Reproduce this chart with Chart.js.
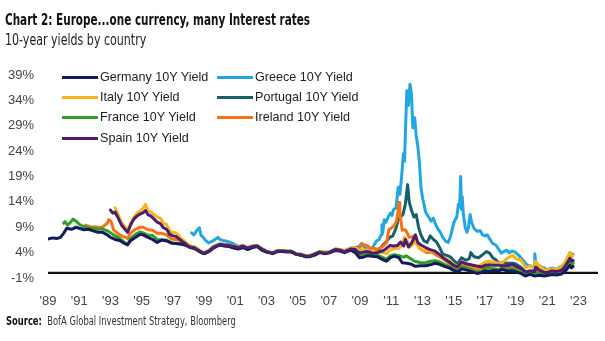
<!DOCTYPE html>
<html>
<head>
<meta charset="utf-8">
<script src="https://cdn.jsdelivr.net/npm/chart.js@4/dist/chart.umd.min.js"></script>
<style>
  html, body { margin: 0; padding: 0; background: #fff; }
  #wrap { position: relative; width: 605px; height: 341px; overflow: hidden; background: #fff; }
  #c { position: absolute; left: 0; top: 0; }
  .narrow { font-family: "Liberation Sans Narrow", "Arial Narrow", "DejaVu Sans Condensed", "Liberation Sans", sans-serif; transform-origin: 0 50%; }
  #title { position: absolute; left: 5px; top: 11px; font-size: 15.5px; font-weight: bold; color: #111; white-space: nowrap; transform: scaleX(0.75); }
  #subtitle { position: absolute; left: 5px; top: 31px; font-size: 15px; color: #222; white-space: nowrap; transform: scaleX(0.82); }
  #source { position: absolute; left: 6px; top: 314px; font-size: 11.5px; color: #333; white-space: nowrap; transform: scaleX(0.81); }
  #source b { color: #111; }
  #legend { position: absolute; left: 0; top: 0; width: 605px; height: 160px; pointer-events: none; }
  .li { position: absolute; height: 16px; display: flex; align-items: center; font-family: "Liberation Sans", Arial, sans-serif; font-size: 12.6px; color: #222; white-space: nowrap; }
  .sw { display: inline-block; width: 36px; height: 3px; margin-right: 2px; }
</style>
</head>
<body>
<div id="wrap">
  <canvas id="c" width="605" height="341"></canvas>
  <div id="title" class="narrow">Chart 2: Europe...one currency, many Interest rates</div>
  <div id="subtitle" class="narrow">10-year yields by country</div>
  <div id="legend"></div>
  <div id="source" class="narrow"><b>Source:</b>&nbsp; BofA Global Investment Strategy, Bloomberg</div>
</div>
<script>
// ---------- DATA ----------
const seriesNames = ["Germany 10Y Yield", "Greece 10Y Yield", "Italy 10Y Yield", "Portugal 10Y Yield", "France 10Y Yield", "Ireland 10Y Yield", "Spain 10Y Yield"];

const yTickValues = [-1, 4, 9, 14, 19, 24, 29, 34, 39];
const yTickLabels = ["-1%", "4%", "9%", "14%", "19%", "24%", "29%", "34%", "39%"];
const xTickValues = [1989, 1991, 1993, 1995, 1997, 1999, 2001, 2003, 2005, 2007, 2009, 2011, 2013, 2015, 2017, 2019, 2021, 2023];
const xTickLabels = ["'89", "'91", "'93", "'95", "'97", "'99", "'01", "'03", "'05", "'07", "'09", "'11", "'13", "'15", "'17", "'19", "'21", "'23"];

const germanyDates = [1989.0,1989.3,1989.6,1989.8,1990.0,1990.2,1990.5,1990.8,1991.0,1991.3,1991.6,1991.9,1992.2,1992.5,1992.8,1993.0,1993.3,1993.6,1993.9,1994.1,1994.3,1994.6,1994.9,1995.1,1995.4,1995.7,1996.0,1996.3,1996.6,1996.9,1997.2,1997.5,1997.8,1998.1,1998.4,1998.7,1999.0,1999.3,1999.6,2000.0,2000.3,2000.6,2000.9,2001.2,2001.5,2001.8,2002.1,2002.4,2002.7,2003.0,2003.4,2003.7,2004.0,2004.3,2004.6,2004.9,2005.2,2005.5,2005.8,2006.1,2006.4,2006.7,2007.0,2007.4,2007.7,2008.0,2008.4,2008.7,2008.95,2009.2,2009.5,2009.8,2010.1,2010.4,2010.7,2010.95,2011.2,2011.5,2011.7,2012.0,2012.3,2012.55,2012.9,2013.2,2013.5,2013.8,2014.1,2014.4,2014.7,2015.0,2015.3,2015.5,2015.8,2016.1,2016.5,2016.8,2017.0,2017.3,2017.6,2017.9,2018.1,2018.4,2018.8,2019.0,2019.3,2019.6,2019.9,2020.2,2020.5,2020.8,2021.0,2021.3,2021.6,2021.9,2022.1,2022.3,2022.45,2022.55,2022.65];
const germanyYield = [6.7,6.9,6.8,7.0,7.8,8.8,8.6,9.0,8.8,8.5,8.6,8.3,8.0,8.0,7.5,7.0,6.6,6.4,5.8,5.5,6.4,7.0,7.6,7.5,7.0,6.6,6.0,6.5,6.3,5.9,5.8,5.7,5.5,5.0,4.8,4.2,3.8,4.2,4.9,5.5,5.3,5.2,4.9,4.7,5.0,4.6,5.0,5.2,4.5,4.1,3.8,4.2,4.2,4.1,4.1,3.7,3.5,3.2,3.2,3.5,4.0,3.8,3.9,4.4,4.3,4.0,4.5,4.0,3.0,3.1,3.4,3.3,3.2,2.7,2.3,3.0,3.3,3.0,2.0,1.9,1.7,1.3,1.4,1.4,1.6,1.9,1.7,1.3,1.0,0.5,0.2,0.8,0.6,0.3,-0.1,0.1,0.4,0.3,0.5,0.4,0.7,0.4,0.4,0.2,-0.1,-0.6,-0.3,-0.6,-0.45,-0.6,-0.5,-0.3,-0.4,-0.2,0.2,0.9,1.5,1.0,1.3];

const greeceDates = [1998.2,1998.35,1998.5,1998.7,1998.8,1998.95,1999.1,1999.3,1999.5,1999.7,1999.9,2000.0,2000.2,2000.4,2000.6,2000.9,2001.1,2001.2,2001.5,2001.8,2002.1,2002.4,2002.7,2003.0,2003.4,2003.7,2004.0,2004.3,2004.6,2004.9,2005.2,2005.5,2005.8,2006.1,2006.4,2006.7,2007.0,2007.4,2007.7,2008.0,2008.4,2008.7,2008.95,2009.1,2009.3,2009.5,2009.7,2009.9,2010.05,2010.2,2010.35,2010.4,2010.45,2010.55,2010.65,2010.8,2010.95,2011.05,2011.15,2011.3,2011.45,2011.55,2011.65,2011.78,2011.85,2011.93,2012.0,2012.1,2012.2,2012.3,2012.38,2012.5,2012.6,2012.7,2012.8,2012.9,2013.0,2013.2,2013.4,2013.55,2013.7,2013.85,2014.0,2014.15,2014.3,2014.5,2014.65,2014.8,2014.9,2015.0,2015.1,2015.2,2015.3,2015.38,2015.45,2015.5,2015.55,2015.62,2015.75,2015.85,2015.95,2016.05,2016.15,2016.3,2016.5,2016.7,2016.85,2017.0,2017.15,2017.35,2017.5,2017.7,2017.9,2018.05,2018.2,2018.4,2018.55,2018.75,2018.9,2019.05,2019.25,2019.45,2019.65,2019.85,2020.0,2020.15,2020.2,2020.25,2020.4,2020.6,2020.8,2021.0,2021.2,2021.4,2021.6,2021.8,2022.0,2022.15,2022.3,2022.45,2022.55,2022.65];
const greeceYield = [7.9,7.5,8.2,8.9,7.5,7.0,6.4,5.9,6.2,6.6,7.0,6.6,6.4,6.3,6.1,5.7,5.4,5.2,5.4,5.0,5.3,5.4,4.8,4.3,4.0,4.4,4.4,4.3,4.3,3.8,3.7,3.4,3.5,3.8,4.2,4.1,4.1,4.7,4.6,4.4,4.9,5.0,5.2,5.8,5.0,4.7,4.6,5.5,6.3,6.5,7.5,9.5,7.8,10.5,10.0,11.0,11.8,11.3,12.5,12.8,16.9,15.5,18.5,23.5,22.0,30.0,35.9,33.0,37.2,35.0,28.6,30.6,27.0,25.0,22.0,17.0,14.9,12.0,11.0,10.2,10.8,9.5,8.6,8.0,7.0,6.2,6.0,7.2,8.5,9.8,10.5,11.0,13.5,13.0,19.0,12.5,15.0,11.5,8.8,8.0,9.0,11.5,10.0,8.8,8.2,8.3,7.5,7.3,7.5,6.5,5.8,5.5,4.6,3.9,4.2,4.5,4.0,4.3,4.2,3.8,3.2,2.5,1.7,1.4,1.3,1.1,3.8,2.0,1.6,1.2,1.0,0.6,0.9,0.9,0.7,1.2,1.4,2.0,2.8,4.0,3.1,3.7];

const italyDates = [1993.3,1993.5,1993.7,1993.9,1994.1,1994.3,1994.5,1994.7,1994.9,1995.1,1995.25,1995.4,1995.6,1995.8,1996.0,1996.2,1996.4,1996.6,1996.8,1997.0,1997.2,1997.4,1997.6,1997.8,1998.0,1998.3,1998.6,1998.9,1999.1,1999.4,1999.7,2000.0,2000.3,2000.6,2000.9,2001.2,2001.5,2001.8,2002.1,2002.4,2002.7,2003.0,2003.4,2003.7,2004.0,2004.3,2004.6,2004.9,2005.2,2005.5,2005.8,2006.1,2006.4,2006.7,2007.0,2007.4,2007.7,2008.0,2008.4,2008.7,2008.95,2009.2,2009.5,2009.8,2010.1,2010.4,2010.7,2010.95,2011.2,2011.5,2011.7,2011.85,2012.0,2012.2,2012.4,2012.55,2012.8,2013.0,2013.3,2013.6,2013.9,2014.2,2014.5,2014.8,2015.0,2015.25,2015.5,2015.8,2016.1,2016.5,2016.8,2017.0,2017.3,2017.6,2017.9,2018.1,2018.4,2018.6,2018.8,2019.0,2019.3,2019.6,2019.9,2020.2,2020.25,2020.5,2020.8,2021.0,2021.3,2021.6,2021.9,2022.1,2022.3,2022.45,2022.55,2022.65];
const italyYield = [12.8,11.5,10.0,9.2,8.4,9.8,11.0,11.8,12.2,12.8,13.5,12.3,12.0,11.5,11.0,10.8,9.8,9.5,8.3,7.9,7.9,7.3,6.6,6.1,5.4,5.1,4.7,4.1,4.0,4.5,5.3,5.7,5.6,5.5,5.3,5.1,5.4,5.0,5.3,5.4,4.8,4.3,4.0,4.4,4.4,4.3,4.3,3.8,3.7,3.4,3.5,3.8,4.2,4.1,4.1,4.7,4.6,4.4,4.9,4.9,4.5,4.5,4.5,4.1,4.1,4.0,3.8,4.6,4.8,4.9,5.5,7.0,6.4,5.1,5.7,6.2,4.8,4.4,4.4,4.3,4.1,3.3,2.8,2.3,1.7,1.2,2.3,1.7,1.5,1.3,1.7,2.1,2.3,2.1,1.9,2.0,2.8,3.2,3.5,2.8,2.6,1.1,1.3,1.0,2.3,1.3,0.7,0.6,0.8,0.7,1.2,1.9,3.1,4.0,3.2,3.5];

const portugalDates = [1999.0,1999.3,1999.6,2000.0,2000.3,2000.6,2000.9,2001.2,2001.5,2001.8,2002.1,2002.4,2002.7,2003.0,2003.4,2003.7,2004.0,2004.3,2004.6,2004.9,2005.2,2005.5,2005.8,2006.1,2006.4,2006.7,2007.0,2007.4,2007.7,2008.0,2008.4,2008.7,2008.95,2009.2,2009.5,2009.8,2010.1,2010.3,2010.5,2010.7,2010.9,2011.1,2011.3,2011.45,2011.6,2011.75,2011.9,2012.05,2012.15,2012.3,2012.45,2012.6,2012.75,2012.9,2013.1,2013.3,2013.5,2013.7,2013.9,2014.1,2014.3,2014.6,2014.8,2015.0,2015.25,2015.5,2015.8,2016.0,2016.1,2016.3,2016.6,2016.9,2017.1,2017.3,2017.5,2017.7,2017.9,2018.1,2018.4,2018.8,2019.0,2019.3,2019.6,2019.9,2020.2,2020.25,2020.5,2020.8,2021.0,2021.3,2021.6,2021.9,2022.1,2022.3,2022.45,2022.55,2022.65];
const portugalYield = [4.0,4.4,5.2,5.7,5.6,5.5,5.2,5.0,5.3,4.9,5.2,5.3,4.7,4.2,3.9,4.3,4.3,4.2,4.2,3.7,3.6,3.3,3.3,3.7,4.1,3.9,4.0,4.6,4.5,4.3,4.8,4.7,4.0,4.3,4.3,3.9,4.3,4.9,5.6,6.2,7.0,7.3,8.8,10.5,11.0,11.5,13.5,17.4,14.0,12.3,11.0,11.5,9.0,7.5,6.3,6.0,7.3,6.6,6.1,5.0,3.7,3.4,3.1,2.5,1.8,3.0,2.5,2.8,4.0,3.2,3.0,3.7,4.2,3.9,3.0,2.6,1.9,2.0,1.9,1.9,1.7,1.1,0.2,0.4,0.4,1.3,0.5,0.1,0.1,0.4,0.2,0.5,1.1,2.2,3.0,2.3,2.4];

const franceDates = [1990.0,1990.1,1990.25,1990.45,1990.6,1990.8,1991.0,1991.3,1991.6,1991.9,1992.2,1992.5,1992.8,1993.0,1993.3,1993.6,1993.9,1994.1,1994.3,1994.6,1994.9,1995.1,1995.4,1995.7,1996.0,1996.3,1996.6,1996.9,1997.2,1997.5,1997.8,1998.1,1998.4,1998.7,1999.0,1999.3,1999.6,2000.0,2000.3,2000.6,2000.9,2001.2,2001.5,2001.8,2002.1,2002.4,2002.7,2003.0,2003.4,2003.7,2004.0,2004.3,2004.6,2004.9,2005.2,2005.5,2005.8,2006.1,2006.4,2006.7,2007.0,2007.4,2007.7,2008.0,2008.4,2008.7,2008.95,2009.2,2009.5,2009.8,2010.1,2010.4,2010.7,2010.95,2011.2,2011.5,2011.8,2011.95,2012.2,2012.5,2012.9,2013.2,2013.5,2013.8,2014.1,2014.4,2014.7,2015.0,2015.3,2015.5,2015.8,2016.1,2016.5,2016.8,2017.0,2017.3,2017.6,2017.9,2018.1,2018.4,2018.8,2019.0,2019.3,2019.6,2019.9,2020.2,2020.5,2020.8,2021.0,2021.3,2021.6,2021.9,2022.1,2022.3,2022.45,2022.55,2022.65];
const franceYield = [9.8,10.1,9.4,10.0,10.6,10.2,9.6,9.1,8.9,8.8,8.6,8.7,8.3,7.9,7.3,6.8,6.0,5.7,6.8,7.6,8.1,7.9,7.4,7.4,6.6,6.5,6.5,5.9,5.8,5.7,5.5,5.1,5.0,4.3,3.9,4.3,5.0,5.6,5.4,5.3,5.1,4.9,5.2,4.8,5.1,5.3,4.6,4.2,3.9,4.3,4.3,4.2,4.2,3.7,3.6,3.3,3.3,3.6,4.1,3.9,4.0,4.5,4.4,4.1,4.6,4.3,3.4,3.6,3.7,3.6,3.5,3.1,2.7,3.4,3.6,3.4,3.1,3.4,2.9,2.3,2.0,2.0,2.3,2.4,2.2,1.7,1.3,0.8,0.4,1.2,1.0,0.6,0.2,0.3,0.9,0.9,0.8,0.7,0.9,0.7,0.8,0.6,0.3,-0.3,0.0,0.0,-0.1,-0.3,-0.3,0.1,0.0,0.2,0.6,1.6,2.1,1.6,1.9];

const irelandDates = [1991.4,1991.6,1991.8,1992.0,1992.2,1992.4,1992.6,1992.8,1992.9,1993.05,1993.2,1993.5,1993.8,1994.1,1994.3,1994.6,1994.9,1995.1,1995.4,1995.7,1996.0,1996.3,1996.6,1996.9,1997.2,1997.5,1997.8,1998.1,1998.4,1998.7,1999.0,1999.3,1999.6,2000.0,2000.3,2000.6,2000.9,2001.2,2001.5,2001.8,2002.1,2002.4,2002.7,2003.0,2003.4,2003.7,2004.0,2004.3,2004.6,2004.9,2005.2,2005.5,2005.8,2006.1,2006.4,2006.7,2007.0,2007.4,2007.7,2008.0,2008.4,2008.7,2008.95,2009.1,2009.3,2009.5,2009.7,2009.9,2010.1,2010.3,2010.5,2010.7,2010.85,2011.0,2011.2,2011.35,2011.5,2011.55,2011.7,2011.9,2012.0,2012.15,2012.4,2012.6,2012.8,2013.0,2013.3,2013.6,2013.9,2014.2,2014.5,2014.8,2015.0,2015.25,2015.5,2015.8,2016.1,2016.5,2016.8,2017.0,2017.3,2017.6,2017.9,2018.1,2018.4,2018.8,2019.0,2019.3,2019.6,2019.9,2020.2,2020.25,2020.5,2020.8,2021.0,2021.3,2021.6,2021.9,2022.1,2022.3,2022.45,2022.55,2022.65];
const irelandYield = [9.4,9.2,9.0,9.1,9.0,8.9,9.3,9.8,10.5,10.1,8.5,7.7,7.2,6.8,7.9,8.6,9.0,9.0,8.5,8.4,7.8,7.8,7.5,6.7,6.6,6.4,6.0,5.3,5.1,4.5,3.9,4.3,5.1,5.6,5.5,5.4,5.1,4.9,5.2,4.8,5.1,5.3,4.6,4.2,3.9,4.3,4.3,4.2,4.2,3.7,3.5,3.2,3.3,3.6,4.1,3.9,4.0,4.6,4.5,4.3,4.8,4.9,4.6,5.7,5.5,5.3,4.8,4.8,4.7,4.9,5.3,6.0,8.6,8.8,9.4,10.3,13.9,12.0,8.4,8.5,8.0,7.0,7.2,6.0,4.9,4.5,4.0,4.1,3.5,3.0,2.4,1.7,1.1,0.8,1.6,1.2,1.0,0.6,0.8,1.1,1.0,0.7,0.6,1.0,0.9,0.9,0.7,0.4,-0.1,0.1,0.1,0.4,0.0,-0.2,-0.2,0.2,0.1,0.3,0.8,1.8,2.4,1.8,2.0];

const spainDates = [1993.0,1993.15,1993.3,1993.5,1993.7,1993.9,1994.1,1994.3,1994.5,1994.7,1994.9,1995.1,1995.25,1995.4,1995.6,1995.8,1996.0,1996.2,1996.4,1996.6,1996.8,1997.0,1997.2,1997.4,1997.6,1997.8,1998.0,1998.3,1998.6,1998.9,1999.1,1999.4,1999.7,2000.0,2000.3,2000.6,2000.9,2001.2,2001.5,2001.8,2002.1,2002.4,2002.7,2003.0,2003.4,2003.7,2004.0,2004.3,2004.6,2004.9,2005.2,2005.5,2005.8,2006.1,2006.4,2006.7,2007.0,2007.4,2007.7,2008.0,2008.4,2008.7,2008.95,2009.2,2009.5,2009.8,2010.1,2010.4,2010.6,2010.9,2011.1,2011.4,2011.6,2011.8,2011.9,2012.1,2012.3,2012.55,2012.7,2012.9,2013.2,2013.5,2013.8,2014.1,2014.4,2014.7,2015.0,2015.25,2015.5,2015.8,2016.1,2016.5,2016.8,2017.0,2017.3,2017.6,2017.9,2018.1,2018.4,2018.8,2019.0,2019.3,2019.6,2019.9,2020.2,2020.25,2020.5,2020.8,2021.0,2021.3,2021.6,2021.9,2022.1,2022.3,2022.45,2022.55,2022.65];
const spainYield = [12.4,11.8,12.0,10.8,9.5,8.7,8.0,9.5,10.6,11.2,11.6,11.9,12.3,11.5,11.2,10.6,10.0,9.7,8.9,8.6,7.6,7.3,7.2,6.7,6.2,5.8,5.2,4.9,4.5,3.9,3.9,4.4,5.2,5.6,5.5,5.4,5.2,5.0,5.3,4.9,5.2,5.3,4.7,4.2,3.9,4.3,4.3,4.2,4.2,3.7,3.6,3.3,3.3,3.7,4.1,3.9,4.0,4.6,4.5,4.2,4.7,4.6,3.9,4.1,4.2,3.9,4.0,4.3,4.6,5.4,5.3,5.4,6.1,5.3,6.6,5.1,5.9,7.5,6.0,5.5,5.0,4.6,4.3,3.6,2.8,2.2,1.5,1.2,2.2,1.8,1.6,1.3,1.2,1.5,1.6,1.5,1.5,1.4,1.4,1.6,1.3,0.9,0.2,0.4,0.3,1.1,0.5,0.1,0.1,0.4,0.3,0.5,1.1,2.1,2.9,2.3,2.5];

// ---------- STYLE ----------
const colors = ["#141a5e", "#21a6e2", "#fbb216", "#16606c", "#2f9f27", "#f57316", "#4c1f6e"];
const drawOrder = [2, 7, 4, 6, 3, 5, 1]; // higher = drawn underneath
const seriesDates = [germanyDates, greeceDates, italyDates, portugalDates, franceDates, irelandDates, spainDates];
const seriesValues = [germanyYield, greeceYield, italyYield, portugalYield, franceYield, irelandYield, spainYield];

const datasets = seriesNames.map((name, i) => ({
  label: name,
  data: seriesDates[i].map((d, j) => ({ x: d, y: seriesValues[i][j] })),
  borderColor: colors[i],
  backgroundColor: colors[i],
  borderWidth: 3,
  pointRadius: 0,
  tension: 0,
  borderJoinStyle: 'round',
  borderCapStyle: 'round',
  order: drawOrder[i]
}));

// HTML legend (two columns)
const legendPos = [[62, 69], [217, 69], [62, 89], [217, 89], [62, 109], [217, 109], [62, 130]];
const legendEl = document.getElementById('legend');
seriesNames.forEach((name, i) => {
  const d = document.createElement('div');
  d.className = 'li';
  d.style.left = legendPos[i][0] + 'px';
  d.style.top = legendPos[i][1] + 'px';
  d.innerHTML = '<span class="sw" style="background:' + colors[i] + '"></span>' + name;
  legendEl.appendChild(d);
});

const zeroLine = {
  id: 'zeroLine',
  beforeDatasetsDraw(chart) {
    const { ctx, chartArea, scales } = chart;
    const y = scales.y.getPixelForValue(0);
    ctx.save();
    ctx.strokeStyle = '#111';
    ctx.lineWidth = 2.2;
    ctx.beginPath();
    ctx.moveTo(chartArea.left, y);
    ctx.lineTo(chartArea.right, y);
    ctx.stroke();
    ctx.restore();
  }
};

const tickFont = { family: '"Liberation Sans", Arial, sans-serif', size: 13 };

new Chart(document.getElementById('c'), {
  type: 'line',
  data: { datasets },
  plugins: [zeroLine],
  options: {
    responsive: false,
    devicePixelRatio: 1,
    animation: false,
    layout: { padding: { left: 0, right: 7, top: 75, bottom: 23 } },
    plugins: { legend: { display: false }, tooltip: { enabled: false } },
    scales: {
      x: {
        type: 'linear',
        min: 1989,
        max: 2024.25,
        grid: { display: false, drawTicks: false },
        border: { display: false },
        afterBuildTicks(scale) { scale.ticks = xTickValues.map(v => ({ value: v })); },
        afterFit(scale) { scale.height = 40; },
        ticks: {
          padding: 16,
          color: '#444',
          font: tickFont,
          maxRotation: 0,
          autoSkip: false,
          callback(value) { const k = xTickValues.indexOf(value); return k >= 0 ? xTickLabels[k] : ''; }
        }
      },
      y: {
        type: 'linear',
        min: -1,
        max: 39,
        grid: { display: false, drawTicks: false },
        border: { display: false },
        afterBuildTicks(scale) { scale.ticks = yTickValues.map(v => ({ value: v })); },
        afterFit(scale) { scale.width = 48; },
        ticks: {
          padding: 14,
          color: '#444',
          font: tickFont,
          autoSkip: false,
          callback(value) { const k = yTickValues.indexOf(value); return k >= 0 ? yTickLabels[k] : ''; }
        }
      }
    }
  }
});
</script>
</body>
</html>
